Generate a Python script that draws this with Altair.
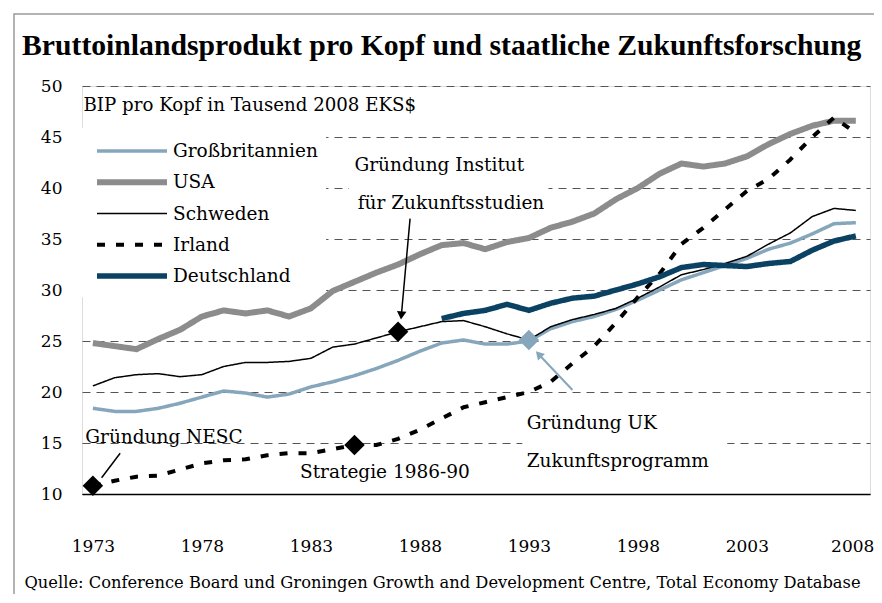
import altair as alt
import pandas as pd

years = list(range(1973, 2009))
countries = ["Großbritannien", "USA", "Schweden", "Irland", "Deutschland"]

gb = [18.4, 18.1, 18.1, 18.4, 18.9, 19.5, 20.1, 19.9, 19.5, 19.8,
      20.5, 21.0, 21.6, 22.3, 23.1, 24.0, 24.8, 25.1, 24.7, 24.7,
      25.0, 26.2, 26.9, 27.4, 28.1, 29.0, 30.0, 31.0, 31.7, 32.4,
      33.1, 34.0, 34.6, 35.5, 36.5, 36.6]
usa = [24.8, 24.5, 24.2, 25.2, 26.1, 27.4, 28.0, 27.7, 28.0, 27.4,
       28.2, 29.9, 30.8, 31.7, 32.5, 33.5, 34.4, 34.6, 34.0, 34.7,
       35.1, 36.1, 36.7, 37.5, 38.9, 40.0, 41.4, 42.4, 42.1, 42.4,
       43.1, 44.3, 45.3, 46.1, 46.6, 46.6]
schweden = [20.6, 21.4, 21.7, 21.8, 21.5, 21.7, 22.5, 22.9, 22.9, 23.0,
            23.3, 24.4, 24.7, 25.3, 25.9, 26.4, 26.9, 27.0, 26.4, 25.7,
            25.1, 26.4, 27.1, 27.6, 28.2, 29.2, 30.3, 31.5, 32.0, 32.6,
            33.3, 34.5, 35.6, 37.2, 38.0, 37.8]
irland = [10.8, 11.3, 11.7, 11.8, 12.4, 13.0, 13.3, 13.4, 13.8, 14.0,
          14.0, 14.4, 14.8, 14.8, 15.4, 16.3, 17.4, 18.5, 19.0, 19.5,
          20.0, 21.0, 22.8, 24.5, 26.8, 29.3, 31.6, 34.5, 36.1, 37.9,
          39.7, 40.9, 42.8, 45.0, 46.9, 45.4]
deutschland = [None] * 16 + [27.2, 27.7, 28.0, 28.6, 28.0, 28.7, 29.2, 29.4,
                             30.0, 30.6, 31.3, 32.2, 32.5, 32.4, 32.3, 32.6,
                             32.8, 33.9, 34.8, 35.3]

colors = ["#86a6bb", "#8c8c8c", "#000000", "#000000", "#0b4263"]
widths = [3.5, 6.0, 1.5, 4.0, 5.5]
dashes = [[1, 0], [1, 0], [1, 0], [8, 11], [1, 0]]

# event markers
marker_years = [1973, 1985, 1987]
marker_values = [10.8, 14.8, 25.9]
uk_marker_year = [1993]
uk_marker_value = [25.1]

# annotation texts (anchor year/value of text)
note_texts = ["Gründung NESC", "Strategie 1986-90", "Gründung Institut",
              "für Zukunftsstudien", "Gründung UK", "Zukunftsprogramm"]
note_years = [1972.65, 1982.5, 1985.0, 1985.15, 1992.9, 1992.9]
note_values = [15.6, 12.15, 42.25, 38.55, 16.95, 13.25]

# connector lines
conn_x = [1974.25, 1987.55]
conn_y = [14.0, 37.0]
conn_x2 = [1973.4, 1987.15]
conn_y2 = [11.6, 27.5]
uk_conn = dict(x=[1995.0], y=[20.2], x2=[1993.45], y2=[23.7])

# white boxes behind annotation texts and the legend
box_x = [1984.75, 1992.7, 1972.5]
box_x2 = [1993.9, 2002.1, 1983.7]
box_y = [40.8, 18.2, 45.9]
box_y2 = [37.4, 12.3, 29.3]

rows = []
for name, vals in zip(countries, [gb, usa, schweden, irland, deutschland]):
    for y, v in zip(years, vals):
        if v is not None:
            rows.append({"Jahr": y, "Land": name, "Wert": v})
df = pd.DataFrame(rows)

FONT = "DejaVu Serif"
xscale = alt.Scale(domain=[1972.5, 2008.65], nice=False, zero=False)
yscale = alt.Scale(domain=[10, 50], nice=False, zero=False)

X = alt.X("Jahr:Q", scale=xscale,
          axis=alt.Axis(values=list(range(1973, 2009, 5)), format="d",
                        grid=False, ticks=False, tickSize=0, labelPadding=44,
                        labelAlign=alt.condition(alt.datum.value == 2008, alt.value("right"), alt.value("center")),
                        labelOffset=alt.condition(alt.datum.value == 2008, alt.value(18), alt.value(0)),
                        domainColor="#000000", domainWidth=1.6,
                        labelFont=FONT, labelFontSize=17, labelColor="#000",
                        title="Quelle: Conference Board und Groningen Growth and Development Centre, Total Economy Database",
                        titleFont=FONT, titleFontSize=16.3, titleFontWeight="normal",
                        titleColor="#000", titleAnchor="start", titleAlign="left",
                        titleX=-58, titleY=93, titleBaseline="alphabetic"))
Y = alt.Y("Wert:Q", scale=yscale,
          axis=alt.Axis(values=list(range(10, 55, 5)), grid=True,
                        gridDash=[8, 6], gridColor="#555555", gridWidth=1,
                        ticks=False, tickSize=0, domain=False, labelPadding=20,
                        labelFont=FONT, labelFontSize=17, labelColor="#000",
                        title="BIP pro Kopf in Tausend 2008 EKS$",
                        titleFont=FONT, titleFontSize=18.2, titleFontWeight="normal",
                        titleColor="#000", titleAngle=0, titleAlign="left",
                        titleX=1, titleY=24, titleBaseline="alphabetic"))

boxes = alt.Chart(pd.DataFrame({"x": box_x, "x2": box_x2, "y": box_y, "y2": box_y2})).mark_rect(
    fill="white").encode(
    x=alt.X("x:Q", scale=xscale), x2="x2:Q",
    y=alt.Y("y:Q", scale=yscale), y2="y2:Q")

lines = alt.Chart(df).mark_line(strokeJoin="round").encode(
    x=X, y=Y,
    color=alt.Color("Land:N", sort=countries,
                    scale=alt.Scale(domain=countries, range=colors),
                    legend=alt.Legend(title=None, orient="none", legendX=0, legendY=43,
                                      symbolType="stroke", symbolSize=4900,
                                      labelFont=FONT, labelFontSize=18.5, labelColor="#000",
                                      labelOffset=3, padding=12,
                                      clipHeight=20, rowPadding=11.25, symbolOpacity=1)),
    strokeWidth=alt.StrokeWidth("Land:N", sort=countries,
                                scale=alt.Scale(type="ordinal", domain=countries, range=widths),
                                legend=alt.Legend(title=None)),
    strokeDash=alt.StrokeDash("Land:N", sort=countries,
                              scale=alt.Scale(domain=countries, range=dashes),
                              legend=alt.Legend(title=None)),
    order=alt.Order("Jahr:Q"),
)

conns = alt.Chart(pd.DataFrame({"x": conn_x, "y": conn_y, "x2": conn_x2, "y2": conn_y2})).mark_rule(
    color="black", strokeWidth=1.5).encode(
    x=alt.X("x:Q", scale=xscale), y=alt.Y("y:Q", scale=yscale), x2="x2:Q", y2="y2:Q")

uk_line = alt.Chart(pd.DataFrame(uk_conn)).mark_rule(color="#86a6bb", strokeWidth=2).encode(
    x=alt.X("x:Q", scale=xscale), y=alt.Y("y:Q", scale=yscale), x2="x2:Q", y2="y2:Q")

head1 = alt.Chart(pd.DataFrame({"x": [conn_x2[1]], "y": [conn_y2[1]]})).mark_point(
    shape="triangle-down", filled=True, color="black", size=90, angle=5, opacity=1).encode(
    x=alt.X("x:Q", scale=xscale), y=alt.Y("y:Q", scale=yscale))
head2 = alt.Chart(pd.DataFrame({"x": uk_conn["x2"], "y": uk_conn["y2"]})).mark_point(
    shape="triangle-up", filled=True, color="#86a6bb", size=90, angle=317, opacity=1).encode(
    x=alt.X("x:Q", scale=xscale), y=alt.Y("y:Q", scale=yscale))

marks_black = alt.Chart(pd.DataFrame({"x": marker_years, "y": marker_values})).mark_point(
    shape="diamond", filled=True, color="black", size=420, opacity=1).encode(
    x=alt.X("x:Q", scale=xscale), y=alt.Y("y:Q", scale=yscale))
marks_uk = alt.Chart(pd.DataFrame({"x": uk_marker_year, "y": uk_marker_value})).mark_point(
    shape="diamond", filled=True, color="#86a6bb", size=420, opacity=1).encode(
    x=alt.X("x:Q", scale=xscale), y=alt.Y("y:Q", scale=yscale))

notes = alt.Chart(pd.DataFrame({"x": note_years, "y": note_values, "t": note_texts})).mark_text(
    align="left", baseline="middle", font=FONT, fontSize=18.5, color="black").encode(
    x=alt.X("x:Q", scale=xscale), y=alt.Y("y:Q", scale=yscale), text="t:N")

frame = alt.Chart(pd.DataFrame({"a": [0]})).mark_rect(
    fill=None, stroke="#9a9a9a", strokeWidth=1.5).encode(
    x=alt.value(-68), x2=alt.value(820), y=alt.value(-72), y2=alt.value(540))

chart = alt.layer(frame, boxes, lines, conns, uk_line, head1, head2, marks_black, marks_uk, notes).properties(
    width=788, height=408,
    autosize=alt.AutoSizeParams(type="none"),
    padding={"left": 74, "top": 78, "right": 4, "bottom": 100},
    title=alt.TitleParams("Bruttoinlandsprodukt pro Kopf und staatliche Zukunftsforschung",
                          anchor="start", frame="group", dx=-60, offset=0, dy=71,
                          baseline="alphabetic", font="Liberation Serif", fontSize=29.7,
                          fontWeight="bold", color="#000"),
).configure_view(stroke=None).configure(background="white")

chart.save("out.html", embed_options={"renderer": "svg", "actions": False})
